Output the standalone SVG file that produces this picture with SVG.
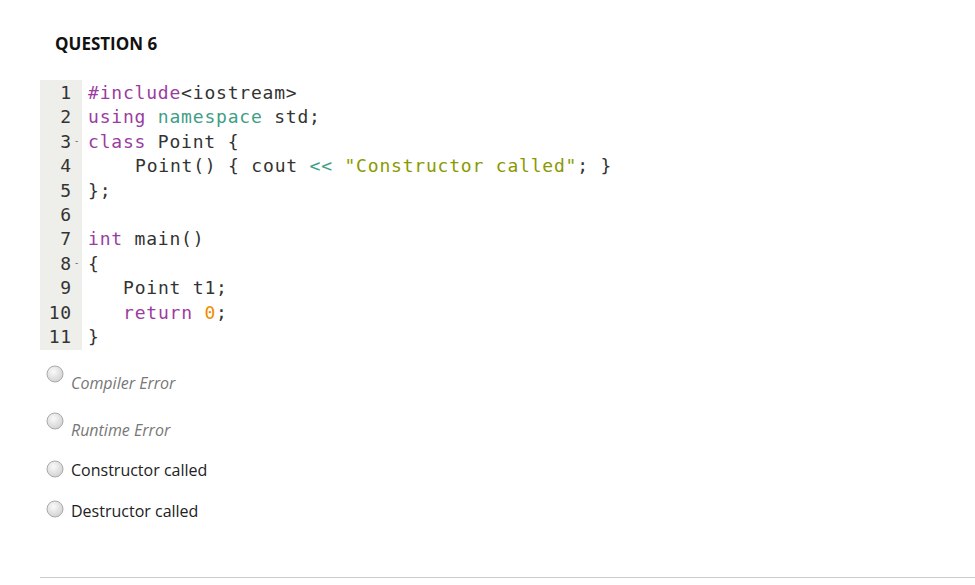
<svg xmlns="http://www.w3.org/2000/svg" width="975" height="585" viewBox="0 0 975 585">
<style>
.c{font-family:"DejaVu Sans Mono","Liberation Mono",monospace;font-size:18px;letter-spacing:0.8px;fill:#333}
.n{font-family:"DejaVu Sans Mono","Liberation Mono",monospace;font-size:18px;letter-spacing:0.8px;fill:#333;text-anchor:end}
.k{fill:#9b3c9f}.t{fill:#3f9e86}.s{fill:#8a9900}.o{fill:#f08c00}
.opt{font-family:"Open Sans",sans-serif;font-size:16px;fill:#222}
.it{font-style:italic;fill:#777}
.r{fill:url(#rg);stroke:#aaa;stroke-width:1}
.f{font-family:"DejaVu Sans",sans-serif;font-size:9px;fill:#555}
</style>
<defs><radialGradient id="rg" cx="0.4" cy="0.35" r="0.7"><stop offset="0" stop-color="#fafafa"/><stop offset="1" stop-color="#d0d0d0"/></radialGradient></defs>
<rect width="975" height="585" fill="#fff"/>
<text x="55" y="50" font-family="'Open Sans',sans-serif" font-size="17" font-weight="bold" fill="#111">QUESTION 6</text>
<rect x="40" y="80" width="42" height="270" fill="#eeeeea"/>
<g class="n">
<text x="72" y="99">1</text><text x="72" y="123">2</text><text x="72" y="148">3</text><text x="72" y="172">4</text><text x="72" y="197">5</text><text x="72" y="221">6</text><text x="72" y="245">7</text><text x="72" y="270">8</text><text x="72" y="294">9</text><text x="72" y="319">10</text><text x="72" y="343">11</text>
</g>
<text class="f" x="75" y="144">-</text><text class="f" x="75" y="266">-</text>
<g class="c">
<text x="88" y="99"><tspan class="k">#include</tspan>&lt;iostream&gt;</text>
<text x="88" y="123"><tspan class="k">using</tspan> <tspan class="t">namespace</tspan> std;</text>
<text x="88" y="148"><tspan class="k">class</tspan> Point {</text>
<text x="135" y="172">Point() { cout <tspan class="t">&lt;&lt;</tspan> <tspan class="s">"Constructor called"</tspan>; }</text>
<text x="88" y="197">};</text>
<text x="88" y="245"><tspan class="k">int</tspan> main()</text>
<text x="88" y="270">{</text>
<text x="123" y="294">Point t1;</text>
<text x="123" y="319"><tspan class="k">return</tspan> <tspan class="o">0</tspan>;</text>
<text x="88" y="343">}</text>
</g>
<circle class="r" cx="55" cy="374" r="8"/>
<circle class="r" cx="55" cy="421" r="8"/>
<circle class="r" cx="55" cy="469" r="8"/>
<circle class="r" cx="55" cy="509" r="8"/>
<text class="opt it" x="71" y="389">Compiler Error</text>
<text class="opt it" x="71" y="436">Runtime Error</text>
<text class="opt" x="71" y="476">Constructor called</text>
<text class="opt" x="71" y="517">Destructor called</text>
<line x1="40" y1="577.5" x2="975" y2="577.5" stroke="#ccc"/>
</svg>
